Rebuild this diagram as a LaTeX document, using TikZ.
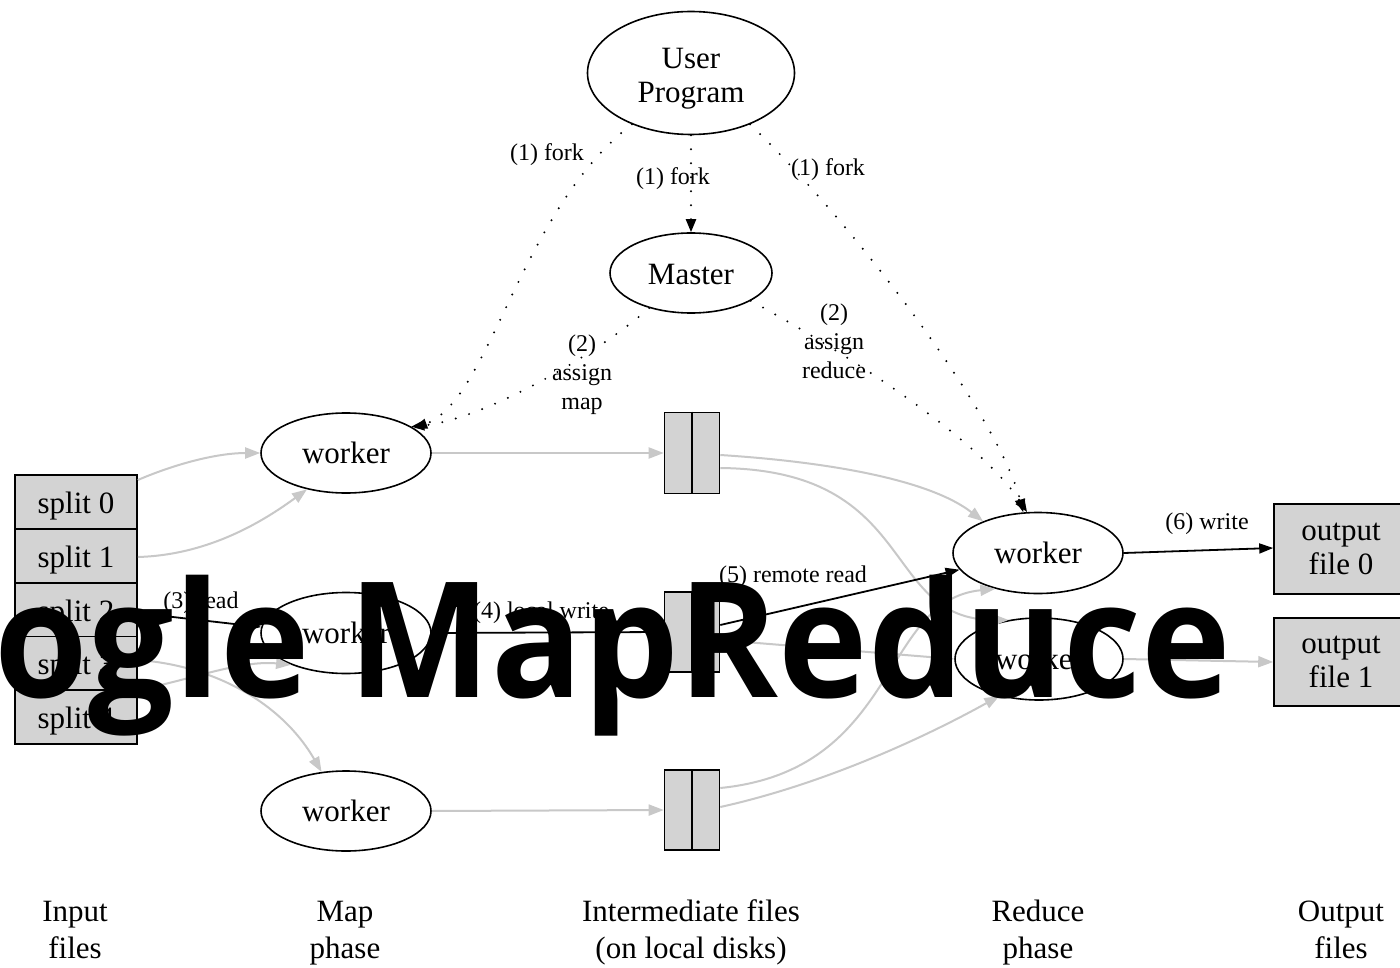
\documentclass[tikz,border=0pt]{standalone}
\usepackage{fontspec}
\setmainfont{Liberation Serif}
\newfontfamily\overlayfont{Open Sans}
\usetikzlibrary{shapes.geometric,arrows.meta}
\definecolor{edgegray}{HTML}{C8C8C8}
\definecolor{boxgray}{HTML}{D3D3D3}
\newcommand{\lowertext}[2]{\raisebox{-#1}[\height][\depth]{#2}}
\newcommand{\twolines}[2]{\begin{tabular}{@{}c@{}}#1\\#2\end{tabular}}
\begin{document}
\begin{tikzpicture}[x=1pt,y=1pt,
  ell/.style={draw, ellipse, line width=1.6pt, inner sep=0pt, align=center, font=\fontsize{31}{34}\selectfont},
  box/.style={draw, rectangle, fill=boxgray, line width=1.6pt, inner sep=0pt, align=center, font=\fontsize{31}{34}\selectfont},
  gedge/.style={draw=edgegray, line width=2pt, -{Triangle[length=15pt,width=11pt,fill=edgegray]}},
  bedge/.style={draw=black, line width=1.8pt, -{Triangle[length=14pt,width=10pt]}},
  dedge/.style={draw=black, line width=2.2pt, line cap=round, dash pattern=on 0pt off 14pt, -{Triangle[length=13pt,width=10pt,line cap=butt]}},
  elabel/.style={font=\fontsize{24}{29}\selectfont, align=center, inner sep=0pt},
  plabel/.style={font=\fontsize{31}{37}\selectfont, align=center, inner sep=0pt},
  midline/.style={line width=1.6pt}
]
\clip (0,0) rectangle (1400,-968);
\fill[white] (0,0) rectangle (1400,-968);

% nodes
\node[ell, minimum width=207pt, minimum height=123pt] (user) at (691,-73) {\lowertext{6pt}{\twolines{User}{Program}}};
\node[ell, minimum width=162pt, minimum height=80pt] (master) at (691,-273) {\lowertext{2pt}{Master}};
\node[ell, minimum width=170pt, minimum height=80pt] (mw1) at (346,-453) {worker};
\node[ell, minimum width=170pt, minimum height=81pt] (mw2) at (346,-633) {worker};
\node[ell, minimum width=170pt, minimum height=80pt] (mw3) at (346,-811) {worker};
\node[ell, minimum width=170pt, minimum height=81pt] (rw1) at (1038,-553) {worker};
\node[ell, minimum width=168pt, minimum height=82pt] (rw2) at (1039,-659) {worker};

\node[box, minimum width=122pt, minimum height=54pt] (s0) at (76,-502) {\lowertext{4pt}{split 0}};
\node[box, minimum width=122pt, minimum height=54pt] (s1) at (76,-556) {\lowertext{4pt}{split 1}};
\node[box, minimum width=122pt, minimum height=54pt] (s2) at (76,-610) {\lowertext{4pt}{split 2}};
\node[box, minimum width=122pt, minimum height=53pt] (s3) at (76,-663) {\lowertext{4pt}{split 3}};
\node[box, minimum width=122pt, minimum height=54pt] (s4) at (76,-717) {\lowertext{4pt}{split 4}};

\node[box, minimum width=55pt, minimum height=81pt] (f1) at (692,-453) {};
\node[box, minimum width=55pt, minimum height=80pt] (f2) at (692,-632) {};
\node[box, minimum width=55pt, minimum height=80pt] (f3) at (692,-810) {};
\draw[midline] (f1.north) -- (f1.south);
\draw[midline] (f2.north) -- (f2.south);
\draw[midline] (f3.north) -- (f3.south);

\node[box, minimum width=134pt, minimum height=90pt] (o0) at (1341,-549) {\lowertext{2pt}{\twolines{output}{file 0}}};
\node[box, minimum width=134pt, minimum height=88pt] (o1) at (1341,-662) {\lowertext{2pt}{\twolines{output}{file 1}}};

% phase labels
\node[plabel] (lin) at (75,-933) {\twolines{Input}{files}};
\node[plabel] (lmap) at (345,-933) {\twolines{Map}{phase}};
\node[plabel] (lint) at (691,-933) {\twolines{Intermediate files}{(on local disks)}};
\node[plabel] (lred) at (1038,-933) {\twolines{Reduce}{phase}};
\node[plabel] (lout) at (1341,-933) {\twolines{Output}{files}};

% dotted control edges
\draw[dedge] (user.-139) .. controls (520,-210) and (490,-400) .. (mw1.20);
\draw[dedge] (user.south) -- (master.north);
\draw[dedge] (user.-41) .. controls (860,-230) and (1000,-420) .. (rw1.110);
\draw[dedge] (master.-140) .. controls (590,-360) and (480,-420) .. (mw1.22);
\draw[dedge] (master.-25) .. controls (850,-355) and (980,-440) .. (rw1.105);

\node[elabel] (lf1) at (547,-155) {(1) fork};
\node[elabel] (lf2) at (673,-179) {(1) fork};
\node[elabel] (lf3) at (828,-170) {(1) fork};
\node[elabel] (lam) at (582,-375) {(2)\\assign\\map};
\node[elabel] (lar) at (834,-341) {(2)\\assign\\reduce};

% input edges
\draw[gedge] ([yshift=22pt]s0.east) .. controls (180,-462) and (220,-453) .. (mw1.west);
\draw[gedge] ([yshift=-1pt]s1.east) .. controls (210,-555) and (265,-520) .. (mw1.-137);
\draw[bedge] ([yshift=-3pt]s2.east) -- (mw2.176);
\draw[gedge] ([yshift=3pt]s3.east) .. controls (210,-665) and (280,-700) .. (mw3.122);
\draw[gedge] ([yshift=27pt]s4.east) .. controls (190,-680) and (240,-660) .. (mw2.-150);
\node[elabel] (lread) at (201,-603) {(3) read};

% map to intermediate
\draw[gedge] (mw1.east) -- (f1.west);
\draw[bedge] (mw2.east) -- (f2.west);
\draw[gedge] (mw3.east) -- (f3.west);
\node[elabel] (lwrite) at (541,-613) {(4) local write};

% intermediate to reduce
\draw[gedge] ([yshift=-2pt]f1.east) .. controls (830,-462) and (930,-480) .. (rw1.150);
\draw[gedge] ([yshift=-15pt]f1.east) .. controls (920,-470) and (880,-620) .. (rw2.128);
\draw[bedge] ([yshift=7pt]f2.east) -- (rw1.192);
\draw[gedge] ([yshift=-8pt]f2.east) -- (rw2.west);
\draw[gedge] ([yshift=22pt]f3.east) .. controls (900,-770) and (880,-600) .. (rw1.-140);
\draw[gedge] ([yshift=3pt]f3.east) .. controls (820,-785) and (920,-740) .. (rw2.-137);
\node[elabel] (lremote) at (793,-577) {(5) remote read};

% reduce to output
\draw[bedge] (rw1.east) -- ([yshift=1pt]o0.west);
\draw[gedge] (rw2.east) -- (o1.west);
\node[elabel] (lw6) at (1207,-524) {(6) write};

% overlay title
\node[font=\overlayfont\bfseries\fontsize{161}{170}\selectfont, anchor=base east, inner sep=0pt] (title) at (1231,-697) {\scalebox{0.94}[1]{Google MapReduce}};
\end{tikzpicture}
\end{document}
